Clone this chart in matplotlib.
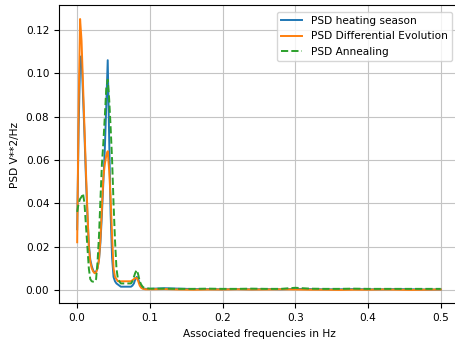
import numpy as np
import matplotlib
matplotlib.use("Agg")
import matplotlib.pyplot as plt

# frequency grid: fine below 0.1 Hz, coarse in the flat tail
freq_low = [0.000, 0.002, 0.004, 0.006, 0.008, 0.010, 0.012, 0.014, 0.016, 0.018,
            0.020, 0.022, 0.024, 0.026, 0.028, 0.030, 0.032, 0.034, 0.036, 0.038,
            0.040, 0.042, 0.044, 0.046, 0.048, 0.050, 0.052, 0.054, 0.056, 0.058,
            0.060, 0.062, 0.064, 0.066, 0.068, 0.070, 0.072, 0.074, 0.076, 0.078,
            0.080, 0.082, 0.084, 0.086, 0.088, 0.090, 0.092, 0.094, 0.096, 0.098]
freq_tail = [0.10, 0.12, 0.14, 0.16, 0.18, 0.20, 0.22, 0.24, 0.26, 0.28,
             0.30, 0.32, 0.34, 0.36, 0.38, 0.40, 0.42, 0.44, 0.46, 0.48, 0.50]

heating_low = [0.028, 0.075, 0.105, 0.108, 0.090, 0.072, 0.052, 0.035, 0.021, 0.014,
               0.011, 0.009, 0.008, 0.0085, 0.010, 0.014, 0.022, 0.035, 0.050, 0.065,
               0.085, 0.106, 0.070, 0.035, 0.015, 0.006, 0.004, 0.003, 0.0025, 0.002,
               0.0015, 0.0015, 0.0015, 0.0015, 0.0015, 0.0015, 0.0015, 0.0015, 0.002, 0.003,
               0.005, 0.006, 0.005, 0.003, 0.0015, 0.0008, 0.0006, 0.0005, 0.0005, 0.0005]
heating_tail = [0.0005, 0.0008, 0.0006, 0.0004, 0.0004, 0.0003, 0.0004, 0.0003, 0.0004, 0.0003,
                0.0005, 0.0004, 0.0003, 0.0003, 0.0004, 0.0003, 0.0003, 0.0004, 0.0003, 0.0002, 0.0002]

diff_evo_low = [0.022, 0.085, 0.125, 0.115, 0.095, 0.075, 0.055, 0.037, 0.020, 0.013,
                0.010, 0.0085, 0.0077, 0.008, 0.010, 0.014, 0.024, 0.038, 0.052, 0.058,
                0.062, 0.064, 0.055, 0.042, 0.025, 0.010, 0.006, 0.005, 0.004, 0.004,
                0.004, 0.004, 0.004, 0.004, 0.004, 0.004, 0.004, 0.004, 0.0045, 0.005,
                0.0055, 0.0055, 0.004, 0.002, 0.001, 0.0006, 0.0004, 0.0003, 0.0003, 0.0003]
diff_evo_tail = [0.0003, 0.0004, 0.0002, 0.0001, 0.0002, 0.0002, 0.0003, 0.0002, 0.0002, 0.0003,
                 0.0002, 0.0001, 0.0001, 0.0000, 0.0001, 0.0001, 0.0002, 0.0001, 0.0000, 0.0001, 0.0002]

anneal_low = [0.036, 0.040, 0.042, 0.043, 0.0445, 0.040, 0.030, 0.020, 0.010, 0.005,
              0.004, 0.0038, 0.0037, 0.005, 0.013, 0.025, 0.042, 0.058, 0.068, 0.080,
              0.093, 0.097, 0.088, 0.075, 0.060, 0.040, 0.023, 0.010, 0.005, 0.004,
              0.003, 0.003, 0.003, 0.003, 0.003, 0.003, 0.003, 0.003, 0.004, 0.006,
              0.008, 0.0092, 0.007, 0.004, 0.0025, 0.0015, 0.001, 0.0008, 0.0007, 0.0007]
anneal_tail = [0.0006, 0.0006, 0.0005, 0.0005, 0.0006, 0.0005, 0.0005, 0.0006, 0.0005, 0.0005,
               0.0010, 0.0006, 0.0005, 0.0005, 0.0006, 0.0005, 0.0005, 0.0005, 0.0005, 0.0005, 0.0005]

freqs = np.array(freq_low + freq_tail)
heating = np.array(heating_low + heating_tail)
diff_evo = np.array(diff_evo_low + diff_evo_tail)
anneal = np.array(anneal_low + anneal_tail)

plt.rcParams['font.size'] = 7.6

fig = plt.figure(figsize=(4.56, 3.41), dpi=100)
# right edge of the axes sits just past the image border, as in the source
ax = fig.add_axes([0.1294, 0.110, 0.877, 0.874])
ax.plot(freqs, heating, color='#1f77b4', lw=1.4, label='PSD heating season')
ax.plot(freqs, diff_evo, color='#ff7f0e', lw=1.4, label='PSD Differential Evolution')
ax.plot(freqs, anneal, color='#2ca02c', lw=1.4, ls='--', label='PSD Annealing')
ax.set_xlim(-0.025, 0.525)
ax.set_xlabel('Associated frequencies in Hz')
ax.set_ylabel('PSD V**2/Hz')
ax.grid(True, color='#c4c4c4', lw=0.8)
ax.legend(loc='upper right', bbox_to_anchor=(0.995, 0.996))

fig.savefig('out.png', dpi=100)
